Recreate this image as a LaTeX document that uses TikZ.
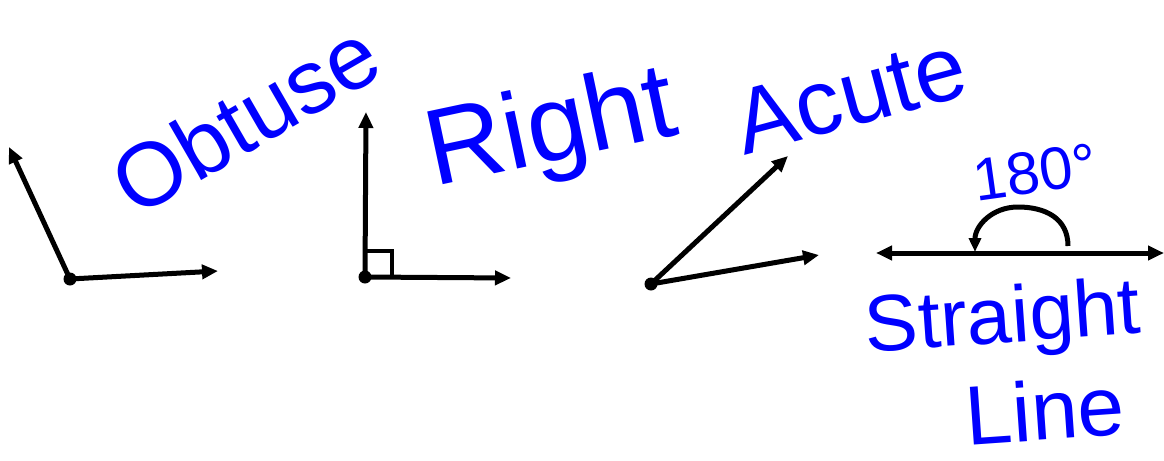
\documentclass[tikz,border=0pt]{standalone}
\usepackage{fontspec}
\setmainfont{Liberation Sans}
\usetikzlibrary{arrows.meta}
\definecolor{ink}{RGB}{0,0,255}
\tikzset{
  ray/.style={line width=2.5pt,-{Triangle[length=8pt,width=7pt]}},
  vdot/.style={circle,fill=black,inner sep=0pt,minimum size=6.5pt},
  hand/.style={text=ink,inner sep=0pt},
}
\begin{document}
\begin{tikzpicture}[x=0.5pt,y=-0.5pt]
\useasboundingbox (0,0) rectangle (1164,461);
% Obtuse
\node[vdot] (o) at (70,279) {};
\coordinate (o1) at (218,271);
\coordinate (o2) at (9,147);
\draw[ray] (o.center) -- (o1);
\draw[ray] (o.center) -- (o2);
\node[hand,rotate=30,font=\fontsize{45}{50}\selectfont] (tobt) at (245,118) {Obtuse};
% Right
\node[vdot] (r) at (365,277) {};
\coordinate (r1) at (511,278);
\coordinate (r2) at (366,112);
\draw[ray] (r.center) -- (r1);
\draw[ray] (r.center) -- (r2);
\coordinate (rs1) at (366,251);
\coordinate (rs2) at (392,277);
\draw[line width=2pt] (rs1) -| (rs2);
\node[hand,rotate=12,font=\fontsize{54}{60}\selectfont] (tright) at (552,133) {Right};
% Acute
\node[vdot] (a) at (651,284) {};
\coordinate (a1) at (788,156);
\coordinate (a2) at (819,255);
\draw[ray] (a.center) -- (a1);
\draw[ray] (a.center) -- (a2);
\node[hand,rotate=15,font=\fontsize{46}{52}\selectfont] (tacute) at (850,95) {Acute};
% Straight
\coordinate (s1) at (876,253);
\coordinate (s2) at (1164,253);
\draw[line width=2.5pt,{Triangle[length=8pt,width=7pt]}-{Triangle[length=8pt,width=7pt]}] (s1) -- (s2);
\coordinate (arcA) at (1068,246);
\coordinate (arcT) at (1018,207);
\coordinate (arcB) at (975,252);
\draw[line width=2.5pt,-{Triangle[length=7pt,width=6pt]}] (arcA) .. controls (1068,218) and (1045,207) .. (arcT) .. controls (992,207) and (975,226) .. (arcB);
\node[hand,rotate=8,font=\fontsize{30}{34}\selectfont] (tdeg) at (1035,172) {180°};
\node[hand,rotate=4,font=\fontsize{40}{46}\selectfont] (tstr) at (1003,322) {Straight};
\node[hand,rotate=4,font=\fontsize{42}{48}\selectfont] (tline) at (1045,410) {Line};
\end{tikzpicture}
\end{document}
